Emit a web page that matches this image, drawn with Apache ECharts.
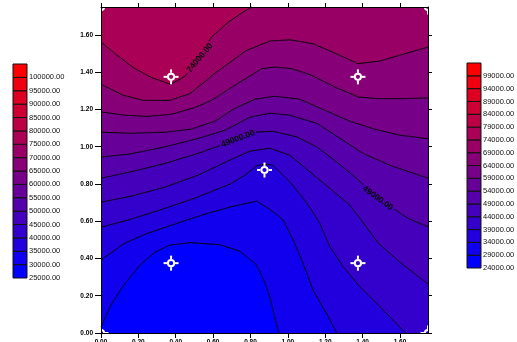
<!DOCTYPE html>
<html><head><meta charset="utf-8">
<script src="https://cdn.jsdelivr.net/npm/echarts@6/dist/echarts.min.js"></script>
<style>html,body{margin:0;padding:0;background:#fff;}#c{width:517px;height:342px;}</style>
</head><body><div id="c"></div>
<script>
// ---------- data ----------
const xTickValues = [0, 0.2, 0.4, 0.6, 0.8, 1.0, 1.2, 1.4, 1.6];
const yTickValues = [0, 0.2, 0.4, 0.6, 0.8, 1.0, 1.2, 1.4, 1.6];
const axisMax = 1.75;

const contourLevels = [29000, 34000, 39000, 44000, 49000, 54000, 59000, 64000, 69000, 74000];
const line29 = [[0,0.032],[0.053,0.150],[0.118,0.252],[0.209,0.365],[0.289,0.434],[0.369,0.472],[0.476,0.485],[0.636,0.474],[0.743,0.439],[0.829,0.370],[0.872,0.284],[0.904,0.193],[0.936,0.059],[0.952,0]];
const line34 = [[0,0.391],[0.123,0.480],[0.246,0.534],[0.396,0.585],[0.556,0.638],[0.690,0.676],[0.833,0.708],[0.922,0.651],[0.975,0.606],[1.029,0.499],[1.082,0.373],[1.135,0.230],[1.207,0.105],[1.262,0]];
const line39 = [[0,0.568],[0.144,0.606],[0.316,0.660],[0.503,0.724],[0.690,0.799],[0.770,0.847],[0.834,0.898],[0.877,0.906],[0.920,0.901],[1.011,0.811],[1.082,0.723],[1.127,0.660],[1.171,0.588],[1.225,0.463],[1.296,0.356],[1.385,0.249],[1.475,0.159],[1.563,0.069],[1.631,0]];
const line44 = [[0,0.702],[0.160,0.734],[0.342,0.783],[0.519,0.847],[0.690,0.928],[0.797,0.976],[0.904,0.992],[1.011,0.954],[1.118,0.865],[1.225,0.776],[1.332,0.686],[1.401,0.595],[1.487,0.479],[1.610,0.372],[1.75,0.263]];
const line49 = [[0,0.831],[0.160,0.865],[0.342,0.910],[0.519,0.964],[0.642,1.008],[0.733,1.046],[0.824,1.078],[0.920,1.083],[1.048,1.053],[1.155,0.999],[1.262,0.918],[1.369,0.829],[1.439,0.761],[1.561,0.670],[1.652,0.611],[1.75,0.571]];
const line54 = [[0,0.944],[0.160,0.962],[0.342,0.999],[0.519,1.044],[0.663,1.088],[0.797,1.158],[0.904,1.180],[1.011,1.169],[1.155,1.126],[1.278,1.046],[1.401,0.965],[1.545,0.901],[1.75,0.831]];
const line59 = [[0,1.078],[0.160,1.072],[0.342,1.078],[0.481,1.094],[0.610,1.137],[0.717,1.206],[0.824,1.255],[0.930,1.271],[1.064,1.255],[1.198,1.196],[1.332,1.137],[1.465,1.094],[1.599,1.062],[1.75,1.043]];
const line64 = [[0,1.187],[0.127,1.169],[0.251,1.163],[0.376,1.174],[0.501,1.210],[0.592,1.249],[0.717,1.330],[0.861,1.419],[0.930,1.428],[1.021,1.419],[1.128,1.383],[1.251,1.321],[1.378,1.267],[1.485,1.258],[1.610,1.258],[1.75,1.262]];
const line69 = [[0,1.335],[0.120,1.276],[0.227,1.249],[0.369,1.249],[0.476,1.285],[0.619,1.401],[0.779,1.517],[0.904,1.567],[1.011,1.574],[1.135,1.553],[1.260,1.499],[1.376,1.446],[1.492,1.460],[1.75,1.535]];
const line74 = [[0,1.562],[0.075,1.500],[0.182,1.419],[0.271,1.371],[0.374,1.335],[0.449,1.378],[0.529,1.491],[0.592,1.589],[0.681,1.669],[0.761,1.723],[0.807,1.75]];
const contourLines = [line29, line34, line39, line44, line49, line54, line59, line64, line69, line74];

const labelLevels = [74000, 49000, 49000];
const labelAnchors = [[0.529, 1.477], [0.733, 1.043], [1.481, 0.724]];
const labelAngles = [50, 21, -36];

const sampleX = [0, 1.75, 0, 1.75, 0.375, 1.375, 0.875, 0.375, 1.375];
const sampleY = [0, 0, 1.75, 1.75, 0.375, 0.375, 0.875, 1.375, 1.375];

const leftBarTicks = [25000,30000,35000,40000,45000,50000,55000,60000,65000,70000,75000,80000,85000,90000,95000,100000];
const rightBarTicks = [24000,29000,34000,39000,44000,49000,54000,59000,64000,69000,74000,79000,84000,89000,94000,99000];
const barStep = 5000;

// ---------- helpers ----------
function colorAt(t) {
  const r = Math.round(255 * t), b = Math.round(255 * (1 - t));
  return 'rgb(' + r + ',0,' + b + ')';
}
const cmin = rightBarTicks[0], cmax = rightBarTicks[rightBarTicks.length - 1];
function levelColor(v) { return colorAt((v - cmin) / (cmax - cmin)); }

const M = axisMax;
function boundaryPos(p) {
  const x = p[0], y = p[1], e = 1e-9;
  if (Math.abs(y) < e && x < M - e) return x;
  if (Math.abs(x - M) < e) return M + y;
  if (Math.abs(y - M) < e) return 2 * M + (M - x);
  return 3 * M + (M - y);
}
const cornerPts = [[M, 0], [M, M], [0, M], [0, 0]];
function closeRegion(line) {
  const s0 = boundaryPos(line[line.length - 1]);
  let s1 = boundaryPos(line[0]);
  if (s1 <= s0) s1 += 4 * M;
  const pts = line.slice();
  for (let k = 1; k <= 8; k++) {
    const c = k * M;
    if (c > s0 && c < s1) pts.push(cornerPts[(k - 1) % 4]);
  }
  return pts;
}
function strokeSegments(pix, gaps) {
  const out = []; let cur = [];
  for (let i = 0; i < pix.length - 1; i++) {
    const a = pix[i], b = pix[i + 1];
    const n = Math.max(1, Math.ceil(Math.hypot(b[0] - a[0], b[1] - a[1])));
    for (let j = (i === 0 ? 0 : 1); j <= n; j++) {
      const t = j / n;
      const p = [a[0] + (b[0] - a[0]) * t, a[1] + (b[1] - a[1]) * t];
      const hidden = gaps.some(g => Math.hypot(p[0] - g[0], p[1] - g[1]) < 19);
      if (hidden) { if (cur.length > 1) out.push(cur); cur = []; }
      else cur.push(p);
    }
  }
  if (cur.length > 1) out.push(cur);
  return out;
}

// ---------- chart ----------
const chart = echarts.init(document.getElementById('c'), null, {renderer: 'canvas'});
const axisFont = {fontFamily: 'Liberation Sans, Arial, sans-serif', fontSize: 6.5, fontWeight: 'bold', color: '#000'};
const barFont = {fontFamily: 'Liberation Sans, Arial, sans-serif', fontSize: 7.5, color: '#111'};

function barSeries(ticks, ai) {
  return {
    type: 'custom', xAxisIndex: ai, yAxisIndex: ai, z: 3,
    data: ticks.map(v => [0, v]),
    renderItem: function (params, api) {
      const i = params.dataIndex, v = ticks[i];
      const p0 = api.coord([0, v]), p1 = api.coord([1, v + barStep]);
      return {
        type: 'rect',
        shape: {x: p0[0], y: p1[1], width: p1[0] - p0[0], height: p0[1] - p1[1]},
        style: {fill: colorAt(i / (ticks.length - 1)), stroke: '#111', lineWidth: 1}
      };
    }
  };
}

const option = {
  animation: false,
  backgroundColor: '#fff',
  grid: [
    {left: 101, top: 7, width: 327, height: 326, show: true, backgroundColor: levelColor(cmin), borderWidth: 0, outerBoundsMode: 'none', containLabel: false},
    {left: 13, top: 64, width: 14, height: 214, outerBoundsMode: 'none'},
    {left: 467, top: 63, width: 14, height: 205, outerBoundsMode: 'none'}
  ],
  xAxis: [
    {type: 'value', gridIndex: 0, min: 0, max: axisMax, position: 'bottom', z: 10,
      axisLine: {show: true, onZero: false, lineStyle: {color: '#000', width: 1}},
      axisTick: {show: true, length: 5, customValues: xTickValues, lineStyle: {color: '#000'}},
      axisLabel: Object.assign({show: true, margin: 6, customValues: xTickValues, formatter: v => v.toFixed(2)}, axisFont),
      splitLine: {show: false}},
    {type: 'value', gridIndex: 0, min: 0, max: axisMax, position: 'top', z: 10,
      axisLine: {show: true, onZero: false, lineStyle: {color: '#000', width: 1}},
      axisTick: {show: true, length: 4, customValues: xTickValues, lineStyle: {color: '#000'}},
      axisLabel: {show: false}, splitLine: {show: false}},
    {type: 'value', gridIndex: 1, min: 0, max: 1, show: false},
    {type: 'value', gridIndex: 2, min: 0, max: 1, show: false}
  ],
  yAxis: [
    {type: 'value', gridIndex: 0, min: 0, max: axisMax, position: 'left', z: 10,
      axisLine: {show: true, onZero: false, lineStyle: {color: '#000', width: 1}},
      axisTick: {show: true, length: 6, customValues: yTickValues, lineStyle: {color: '#000'}},
      axisLabel: Object.assign({show: true, margin: 8, customValues: yTickValues, formatter: v => v.toFixed(2)}, axisFont),
      splitLine: {show: false}},
    {type: 'value', gridIndex: 0, min: 0, max: axisMax, position: 'right', z: 10,
      axisLine: {show: true, onZero: false, lineStyle: {color: '#000', width: 1}},
      axisTick: {show: true, length: 4, customValues: yTickValues, lineStyle: {color: '#000'}},
      axisLabel: {show: false}, splitLine: {show: false}},
    {type: 'value', gridIndex: 1, min: leftBarTicks[0], max: leftBarTicks[leftBarTicks.length - 1] + barStep, position: 'right',
      axisLine: {show: false}, axisTick: {show: false}, splitLine: {show: false},
      axisLabel: Object.assign({show: true, margin: 2, customValues: leftBarTicks, formatter: v => v.toFixed(2)}, barFont)},
    {type: 'value', gridIndex: 2, min: rightBarTicks[0], max: rightBarTicks[rightBarTicks.length - 1] + barStep, position: 'right',
      axisLine: {show: false}, axisTick: {show: false}, splitLine: {show: false},
      axisLabel: Object.assign({show: true, margin: 2, customValues: rightBarTicks, formatter: v => v.toFixed(2)}, barFont)}
  ],
  series: [
    { // filled bands
      type: 'custom', xAxisIndex: 0, yAxisIndex: 0, z: 2,
      data: contourLines.map((ln, i) => [ln[0][0], ln[0][1], contourLevels[i]]),
      renderItem: function (params, api) {
        const i = params.dataIndex;
        const pts = closeRegion(contourLines[i]).map(p => api.coord(p));
        return {type: 'polygon', shape: {points: pts}, style: {fill: levelColor(contourLevels[i]), stroke: null}};
      }
    },
    { // contour lines
      type: 'custom', xAxisIndex: 0, yAxisIndex: 0, z: 3,
      data: contourLines.map((ln, i) => [ln[0][0], ln[0][1], contourLevels[i]]),
      renderItem: function (params, api) {
        const i = params.dataIndex, lvl = contourLevels[i];
        const pix = contourLines[i].map(p => api.coord(p));
        const gaps = [];
        labelLevels.forEach((l, k) => { if (l === lvl) gaps.push(api.coord(labelAnchors[k])); });
        const segs = strokeSegments(pix, gaps);
        return {type: 'group', children: segs.map(s => ({
          type: 'polyline', shape: {points: s}, style: {stroke: '#000', lineWidth: 1, fill: null}
        }))};
      }
    },
    { // contour labels
      type: 'custom', xAxisIndex: 0, yAxisIndex: 0, z: 4,
      data: labelAnchors.map((a, k) => [a[0], a[1], labelLevels[k]]),
      renderItem: function (params, api) {
        const k = params.dataIndex;
        const p = api.coord(labelAnchors[k]);
        return {type: 'text', x: p[0], y: p[1], rotation: labelAngles[k] * Math.PI / 180,
          style: {text: labelLevels[k].toFixed(2), fill: '#000', align: 'center', verticalAlign: 'middle',
            font: 'bold 8.5px "Liberation Sans", Arial, sans-serif'}};
      }
    },
    { // sample points
      type: 'custom', xAxisIndex: 0, yAxisIndex: 0, z: 5, clip: true,
      data: sampleX.map((x, i) => [x, sampleY[i]]),
      renderItem: function (params, api) {
        const p = api.coord([api.value(0), api.value(1)]);
        const st = {stroke: '#fff', lineWidth: 2, fill: null};
        return {type: 'group', children: [
          {type: 'circle', shape: {cx: p[0], cy: p[1], r: 3.1}, style: st},
          {type: 'line', shape: {x1: p[0] - 7.5, y1: p[1], x2: p[0] - 4, y2: p[1]}, style: st},
          {type: 'line', shape: {x1: p[0] + 4, y1: p[1], x2: p[0] + 7.5, y2: p[1]}, style: st},
          {type: 'line', shape: {x1: p[0], y1: p[1] - 7.5, x2: p[0], y2: p[1] - 4}, style: st},
          {type: 'line', shape: {x1: p[0], y1: p[1] + 4, x2: p[0], y2: p[1] + 7.5}, style: st}
        ]};
      }
    },
    barSeries(leftBarTicks, 2),
    barSeries(rightBarTicks, 3)
  ]
};
chart.setOption(option);
</script>
</body></html>
